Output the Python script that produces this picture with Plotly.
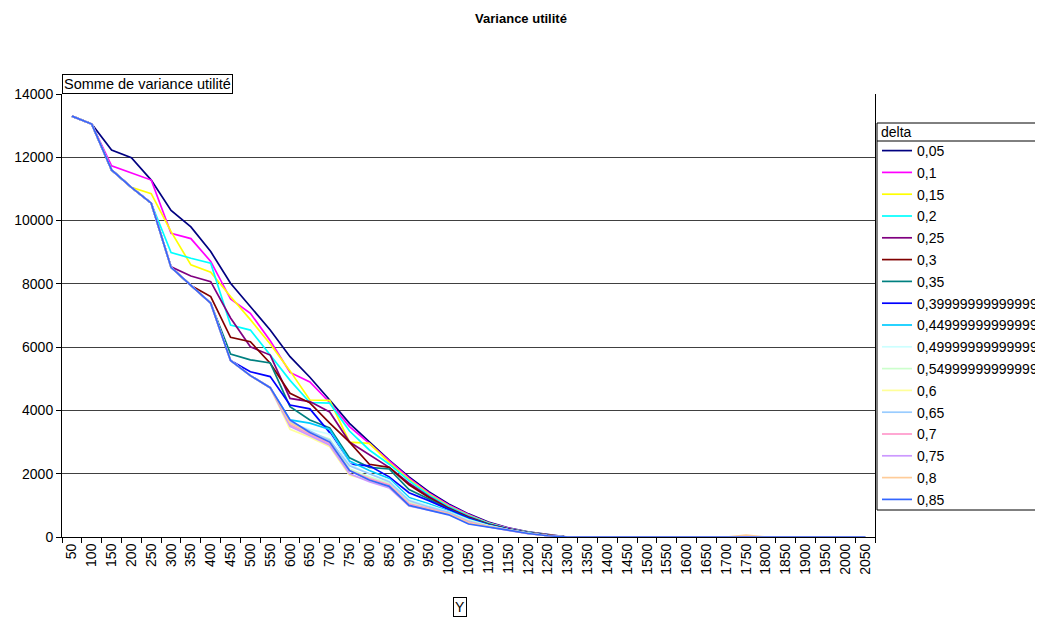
import plotly.graph_objects as go

categories = [str(v) for v in range(50, 2100, 50)]

deltas = ["0,05", "0,1", "0,15", "0,2", "0,25", "0,3", "0,35", "0,3999999999999999",
          "0,4499999999999999", "0,4999999999999999", "0,5499999999999999", "0,6",
          "0,65", "0,7", "0,75", "0,8", "0,85"]

colors = ["#000080", "#FF00FF", "#FFFF00", "#00FFFF", "#800080", "#800000", "#008080",
          "#0000FF", "#00CCFF", "#CCFFFF", "#CCFFCC", "#FFFF99", "#99CCFF", "#FF99CC",
          "#CC99FF", "#FFCC99", "#3366FF"]

# values for 50 .. 1300 (26 points); later categories are zero
head = [13300, 13050, 11600, 11050, 10550, 8520, 7950, 7390, 5580, 5100, 4720]

v_005 = [13300, 13050, 12230, 11990, 11280, 10320, 9800, 9020, 8020, 7280, 6540, 5700, 5050, 4330, 3590, 3010, 2430, 1900, 1430, 1040, 730, 470, 290, 160, 70, 0]
v_010 = [13300, 13050, 11730, 11500, 11280, 9600, 9430, 8710, 7520, 7070, 6200, 5200, 4900, 4250, 3490, 2960, 2400, 1860, 1390, 1010, 710, 450, 280, 150, 60, 0]
v_015 = [13300, 13050, 11600, 11050, 10850, 9650, 8600, 8370, 7600, 6870, 6100, 5250, 4330, 4320, 3000, 2960, 2350, 1820, 1360, 980, 690, 440, 270, 150, 60, 0]
v_020 = [13300, 13050, 11600, 11050, 10550, 8990, 8810, 8650, 6700, 6540, 5750, 4950, 4250, 4230, 3350, 2750, 2300, 1780, 1330, 960, 670, 430, 265, 145, 55, 0]
v_025 = [13300, 13050, 11600, 11050, 10550, 8540, 8250, 8070, 6920, 6010, 5750, 4380, 4280, 3950, 3000, 2600, 2200, 1700, 1280, 920, 640, 410, 255, 140, 50, 0]
v_030 = [13300, 13050, 11600, 11050, 10550, 8520, 7950, 7600, 6310, 6170, 5490, 4540, 4240, 3600, 3000, 2300, 2200, 1650, 1250, 900, 620, 400, 250, 135, 50, 0]
v_035 = [13300, 13050, 11600, 11050, 10550, 8520, 7950, 7390, 5780, 5600, 5500, 4120, 3700, 3450, 2500, 2200, 2150, 1500, 1200, 880, 600, 390, 245, 130, 45, 0]
v_040 = [13300, 13050, 11600, 11050, 10550, 8520, 7950, 7390, 5580, 5220, 5070, 4170, 4050, 3300, 2300, 2250, 1900, 1400, 1150, 860, 590, 380, 240, 125, 45, 0]
v_045 = head + [3700, 3600, 3400, 2400, 2100, 1850, 1250, 1050, 820, 560, 370, 235, 120, 45, 0]
v_050 = head + [3600, 3400, 3250, 2300, 2000, 1800, 1200, 1000, 800, 540, 360, 230, 120, 40, 0]
v_055 = head + [3500, 3300, 3100, 2150, 1900, 1700, 1100, 950, 780, 520, 350, 225, 115, 40, 0]
v_060 = head + [3400, 3150, 2850, 1950, 1800, 1650, 1050, 900, 760, 500, 340, 220, 110, 40, 0]
v_065 = head + [3650, 3350, 3050, 2250, 2000, 1750, 1150, 950, 780, 500, 340, 220, 110, 40, 0]
v_070 = head + [3550, 3250, 2950, 2100, 1850, 1650, 1050, 900, 740, 470, 330, 215, 110, 40, 0]
v_075 = head + [3500, 3200, 2900, 2000, 1750, 1550, 980, 850, 720, 440, 320, 210, 105, 40, 0]
v_080 = head + [3600, 3300, 3000, 2100, 1800, 1600, 1000, 870, 730, 450, 330, 215, 110, 40, 0]
v_085 = head + [3700, 3300, 3000, 2100, 1800, 1600, 1000, 850, 700, 410, 320, 220, 110, 40, 0]

tail_zero = [0] * 15
tail_080 = [0, 0, 0, 0, 0, 0, 0, 0, 60, 0, 0, 0, 0, 0, 0]  # small bump at 1700

series = [v_005, v_010, v_015, v_020, v_025, v_030, v_035, v_040, v_045, v_050,
          v_055, v_060, v_065, v_070, v_075, v_080, v_085]

FONT = "Liberation Sans, Arial, sans-serif"

# page has an 8px body margin: figure is drawn from (8, 8)
W, H = 1035, 611
PL, PR, PT, PB = 62, 875, 94, 537  # plot area in page pixels
OFF = 8

fig = go.Figure()
for i, (name, vals, col) in enumerate(zip(deltas, series, colors)):
    tail = tail_080 if name == "0,8" else tail_zero
    fig.add_trace(go.Scatter(
        x=categories, y=vals + tail, mode="lines", name=name,
        line=dict(color=col, width=1.7), legendgroup=f"g{i}",
    ))

pw, ph = PR - PL, PB - PT


def px(x):
    return (x - PL) / pw


def py(y):
    return (PB - y) / ph


fig.update_layout(
    width=W, height=H,
    margin=dict(l=PL - OFF, r=W - (PR - OFF), t=PT - OFF, b=H - (PB - OFF), autoexpand=False),
    paper_bgcolor="white", plot_bgcolor="white",
    font=dict(family=FONT, size=14, color="black"),
    title=dict(text="<b>Variance utilité</b>", x=(521 - OFF) / W, xref="container", xanchor="center",
               y=1 - (18 - OFF) / H, yanchor="middle", yref="container",
               font=dict(family=FONT, size=13, color="black")),
    showlegend=True,
    legend=dict(
        x=px(877), xanchor="left", y=py(135), yanchor="top",
        borderwidth=0, bgcolor="rgba(0,0,0,0)",
        font=dict(family=FONT, size=14, color="black"),
        tracegroupgap=0.6, itemwidth=30,
    ),
    xaxis=dict(
        type="category", tickangle=-90, showgrid=False,
        showline=True, linecolor="black", linewidth=1,
        ticks="outside", ticklen=5, tickcolor="black", tickson="boundaries",
        tickfont=dict(family=FONT, size=14, color="black"),
        range=[-0.5, len(categories) - 0.5],
    ),
    yaxis=dict(
        range=[0, 14000], dtick=2000, tick0=0, tickformat="d",
        showgrid=True, gridcolor="#404040", gridwidth=1,
        showline=True, linecolor="black", linewidth=1, mirror=True,
        ticks="outside", ticklen=5, tickcolor="black",
        tickfont=dict(family=FONT, size=14, color="black"),
        zeroline=False,
    ),
)

# legend frame with header cell "delta"
fig.add_shape(type="rect", xref="paper", yref="paper",
              x0=px(877), x1=px(1060), y0=py(510), y1=py(123),
              line=dict(color="black", width=1), fillcolor="white", layer="below")
fig.add_shape(type="line", xref="paper", yref="paper",
              x0=px(877), x1=px(1060), y0=py(141), y1=py(141),
              line=dict(color="black", width=1))
fig.add_annotation(text="delta", xref="paper", yref="paper",
                   x=px(879), xanchor="left", y=py(132), yanchor="middle",
                   showarrow=False, font=dict(family=FONT, size=14, color="black"))

# field buttons
fig.add_annotation(text="Somme de variance utilité", xref="paper", yref="paper",
                   x=0, xanchor="left", y=py(84), yanchor="middle",
                   showarrow=False, bordercolor="black", borderwidth=1, borderpad=1,
                   font=dict(family=FONT, size=14.5, color="black"))
fig.add_annotation(text="Y", xref="paper", yref="paper",
                   x=px(460), xanchor="center", y=py(607), yanchor="middle",
                   showarrow=False, bordercolor="black", borderwidth=1, borderpad=1,
                   font=dict(family=FONT, size=14, color="black"))

fig.write_html("out.html")
